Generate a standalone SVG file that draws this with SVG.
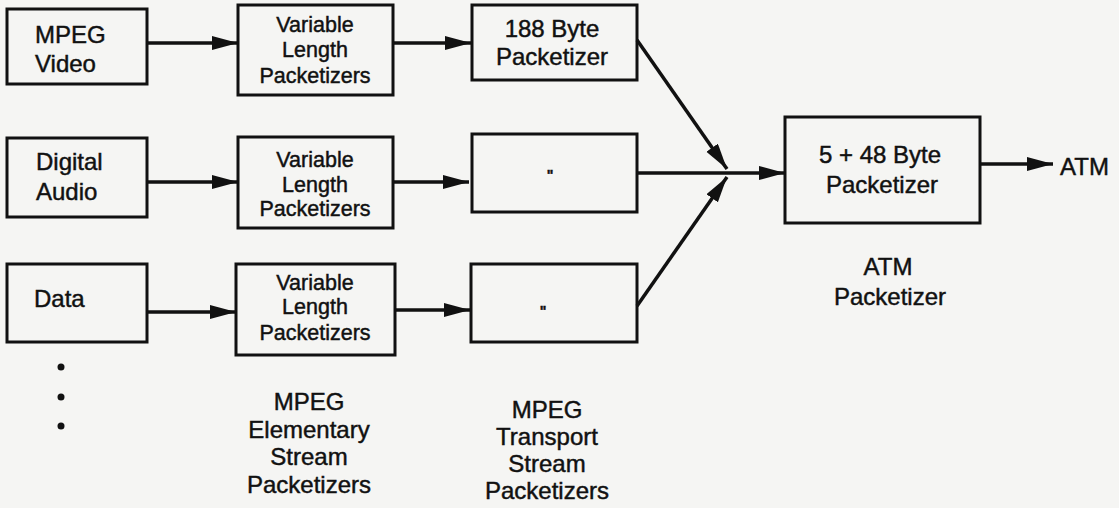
<svg xmlns="http://www.w3.org/2000/svg" width="1119" height="508" viewBox="0 0 1119 508">
  <style>
    .box { fill: none; stroke: #111; stroke-width: 3; }
    .t { font-family: "Liberation Sans", Arial, sans-serif; fill: #111; stroke: #111; stroke-width: 0.45; }
    .in { font-size: 24px; }
    .vl { font-size: 21.5px; text-anchor: middle; }
    .pk { font-size: 24px; text-anchor: middle; }
    .lbl { font-size: 24px; text-anchor: middle; }
    .wire { fill: none; stroke: #111; stroke-width: 3.5; }
    .dit { font-size: 14px; font-weight: bold; text-anchor: middle; }
  </style>
  <defs>
    <marker id="arrow" markerUnits="userSpaceOnUse" markerWidth="28" markerHeight="16" refX="26" refY="7" orient="auto">
      <path d="M0,0 L26,7 L0,14 z" fill="#111"/>
    </marker>
  </defs>

  <rect x="0" y="0" width="1119" height="508" fill="#f5f5f3"/>

  <!-- sources -->
  <g id="src-video">
    <rect class="box" x="7" y="9" width="140" height="75"/>
    <text class="t in" x="35" y="43">MPEG</text>
    <text class="t in" x="35" y="72">Video</text>
  </g>
  <g id="src-audio">
    <rect class="box" x="7" y="138" width="140" height="79"/>
    <text class="t in" x="36" y="170">Digital</text>
    <text class="t in" x="36" y="200">Audio</text>
  </g>
  <g id="src-data">
    <rect class="box" x="7" y="264" width="140" height="78"/>
    <text class="t in" x="34" y="307">Data</text>
  </g>

  <!-- elementary stream packetizers -->
  <g id="vlp-1">
    <rect class="box" x="238" y="5" width="155" height="90"/>
    <text class="t vl" x="315" y="32">Variable</text>
    <text class="t vl" x="315" y="57">Length</text>
    <text class="t vl" x="315" y="83">Packetizers</text>
  </g>
  <g id="vlp-2">
    <rect class="box" x="238" y="137" width="155" height="91"/>
    <text class="t vl" x="315" y="167">Variable</text>
    <text class="t vl" x="315" y="192">Length</text>
    <text class="t vl" x="315" y="216">Packetizers</text>
  </g>
  <g id="vlp-3">
    <rect class="box" x="236" y="264" width="159" height="91"/>
    <text class="t vl" x="315" y="290">Variable</text>
    <text class="t vl" x="315" y="314">Length</text>
    <text class="t vl" x="315" y="340">Packetizers</text>
  </g>

  <!-- transport stream packetizers -->
  <g id="ts-1">
    <rect class="box" x="472" y="5" width="165" height="75"/>
    <text class="t pk" x="552" y="37">188 Byte</text>
    <text class="t pk" x="552" y="65">Packetizer</text>
  </g>
  <g id="ts-2">
    <rect class="box" x="472" y="134" width="165" height="78"/>
    <text class="t dit" x="550" y="180">"</text>
  </g>
  <g id="ts-3">
    <rect class="box" x="471" y="264" width="166" height="78"/>
    <text class="t dit" x="543" y="316">"</text>
  </g>

  <!-- ATM packetizer -->
  <g id="atm">
    <rect class="box" x="785" y="117" width="195" height="106"/>
    <text class="t pk" x="880" y="163">5 + 48 Byte</text>
    <text class="t pk" x="882" y="193">Packetizer</text>
  </g>
  <g id="atm-out">
    <text class="t in" x="1060" y="175">ATM</text>
  </g>

  <!-- captions -->
  <g id="captions">
    <text class="t lbl" x="888" y="275">ATM</text>
    <text class="t lbl" x="890" y="305">Packetizer</text>
    <text class="t lbl" x="309" y="410">MPEG</text>
    <text class="t lbl" x="309" y="438">Elementary</text>
    <text class="t lbl" x="309" y="465">Stream</text>
    <text class="t lbl" x="309" y="493">Packetizers</text>
    <text class="t lbl" x="547" y="418">MPEG</text>
    <text class="t lbl" x="547" y="445">Transport</text>
    <text class="t lbl" x="547" y="472">Stream</text>
    <text class="t lbl" x="547" y="499">Packetizers</text>
    <circle cx="61" cy="367" r="3.5" fill="#111"/>
    <circle cx="61" cy="397" r="3.5" fill="#111"/>
    <circle cx="61" cy="426" r="3.5" fill="#111"/>
  </g>

  <!-- connectors -->
  <g id="connectors">
    <line class="wire" x1="147" y1="43" x2="238" y2="43" marker-end="url(#arrow)"/>
    <line class="wire" x1="147" y1="182" x2="238" y2="182" marker-end="url(#arrow)"/>
    <line class="wire" x1="147" y1="312" x2="236" y2="312" marker-end="url(#arrow)"/>
    <line class="wire" x1="393" y1="43" x2="471" y2="43" marker-end="url(#arrow)"/>
    <line class="wire" x1="393" y1="182" x2="469" y2="182" marker-end="url(#arrow)"/>
    <line class="wire" x1="395" y1="310" x2="470" y2="310" marker-end="url(#arrow)"/>
    <line class="wire" x1="637" y1="40" x2="727" y2="169" marker-end="url(#arrow)"/>
    <line class="wire" x1="637" y1="306" x2="727" y2="177" marker-end="url(#arrow)"/>
    <line class="wire" x1="637" y1="173" x2="785" y2="173" marker-end="url(#arrow)"/>
    <line class="wire" x1="980" y1="164" x2="1053" y2="164" marker-end="url(#arrow)"/>
  </g>
</svg>
